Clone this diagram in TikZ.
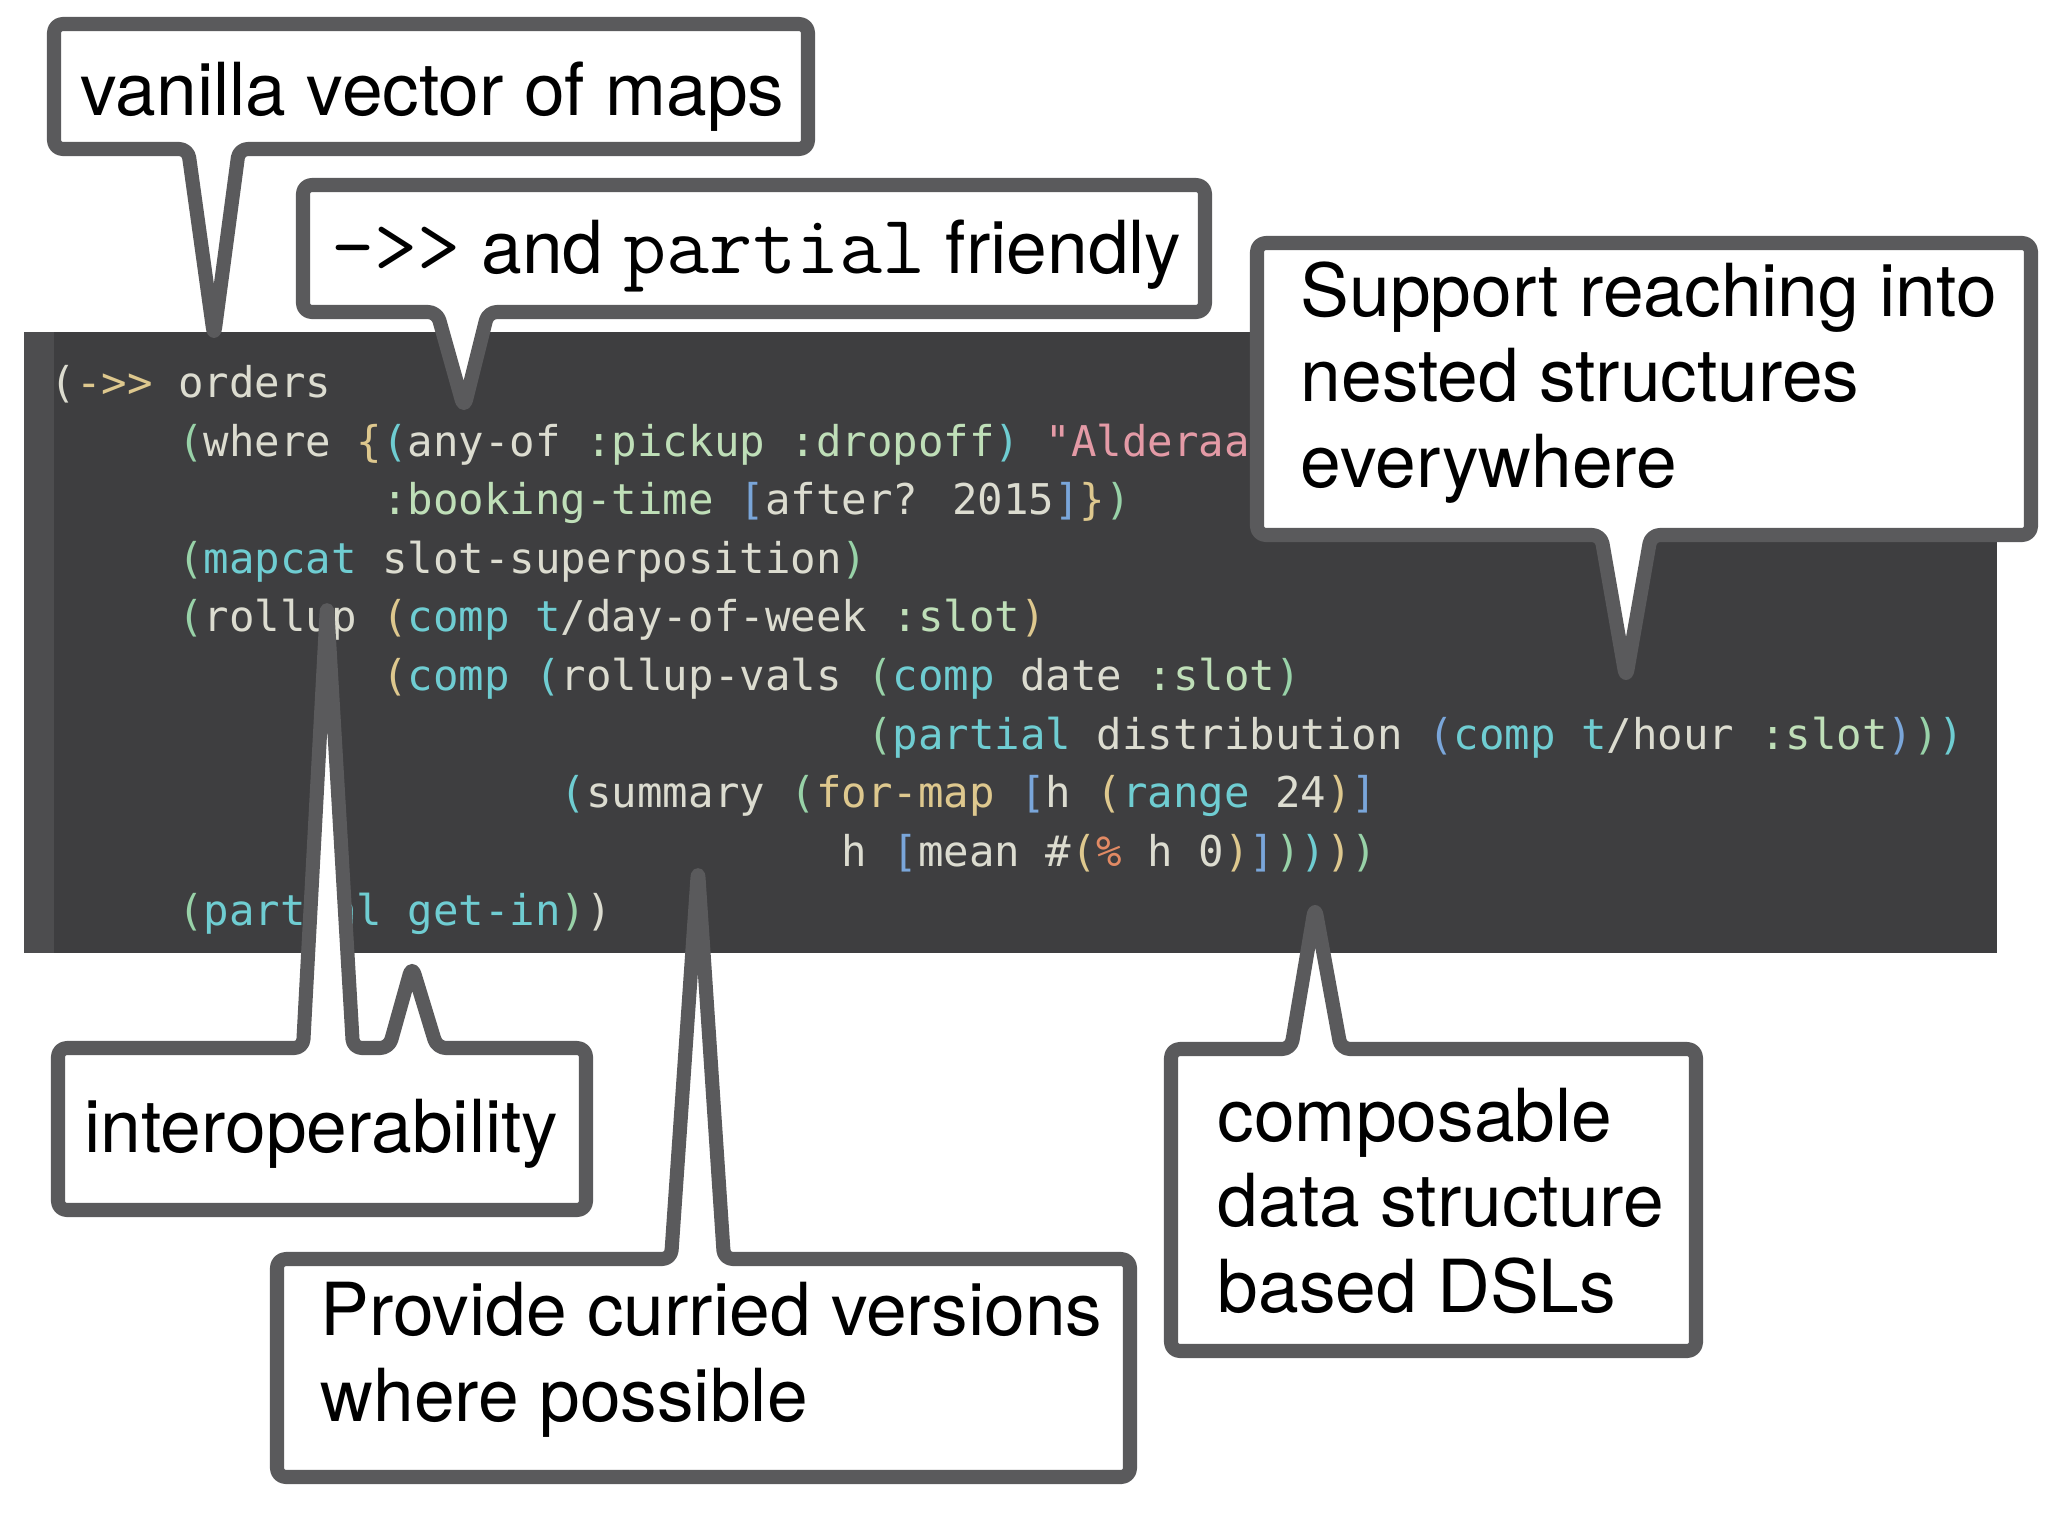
\documentclass[tikz,border=0pt]{standalone}
\usepackage{fontspec}
\newfontfamily\codefont{DejaVu Sans Mono}
\newfontfamily\callfont{TeX Gyre Heros}

\definecolor{codebg}{HTML}{3E3E40}
\definecolor{gutter}{HTML}{4D4D4F}
\definecolor{callgray}{HTML}{5A5A5C}
\definecolor{cwhite}{HTML}{DCDCD0}
\definecolor{cgreen}{HTML}{98D2A8}
\definecolor{cyellow}{HTML}{DEC88E}
\definecolor{ccyan}{HTML}{6FCDD2}
\definecolor{cblue}{HTML}{7AA6DA}
\definecolor{ckey}{HTML}{BFDFB8}
\definecolor{cpink}{HTML}{E49AA6}
\definecolor{corange}{HTML}{E28A64}

\newcommand\cc[2]{\textcolor{#1}{#2}}
\newcommand\ind[1]{\hspace*{#1\fontcharwd\font`0}}
\newcommand\calltt[1]{{\ttfamily\fontsize{23.8pt}{24pt}\selectfont #1}}

\tikzset{
  callout/.style={draw=callgray, fill=white, line width=4pt, rounded corners=2.5pt, line join=round},
  calltext/.style={anchor=base west, inner sep=0pt, align=left, text=black,
    font=\callfont\fontsize{20.8pt}{24.2pt}\selectfont},
  codetext/.style={anchor=base west, inner sep=0pt, align=left, text=cwhite,
    font=\codefont\fontsize{12.05pt}{16.67pt}\selectfont}
}

\begin{document}
\begin{tikzpicture}[x=0.01cm, y=-0.01cm]
    \useasboundingbox (0,0) rectangle (2048,1536);

    % Code panel (node base is its last line)
    \fill[codebg] (24,332) rectangle (1997,953);
    \fill[gutter] (24,332) rectangle (54,953);
    \node[codetext] (code) at (50,925) {%
      \cc{cwhite}{(}\cc{cyellow}{->>} orders\\
      \ind{5}\cc{cgreen}{(}where \cc{cyellow}{\{}\cc{ccyan}{(}any-of \cc{ckey}{:pickup :dropoff}\cc{ccyan}{)} \cc{cpink}{"Alderaan"}\\
      \ind{13}\cc{ckey}{:booking-time} \cc{cblue}{[}after? 2015\cc{cblue}{]}\cc{cyellow}{\}}\cc{cgreen}{)}\\
      \ind{5}\cc{cgreen}{(}\cc{ccyan}{mapcat} slot-superposition\cc{cgreen}{)}\\
      \ind{5}\cc{cgreen}{(}rollup \cc{cyellow}{(}\cc{ccyan}{comp t}/day-of-week \cc{ckey}{:slot}\cc{cyellow}{)}\\
      \ind{13}\cc{cyellow}{(}\cc{ccyan}{comp} \cc{ccyan}{(}rollup-vals \cc{cgreen}{(}\cc{ccyan}{comp} date \cc{ckey}{:slot}\cc{cgreen}{)}\\
      \ind{32}\cc{cgreen}{(}\cc{ccyan}{partial} distribution \cc{cblue}{(}\cc{ccyan}{comp t}/hour \cc{ckey}{:slot}\cc{cblue}{)}\cc{cgreen}{)}\cc{ccyan}{)}\\
      \ind{20}\cc{ccyan}{(}summary \cc{cgreen}{(}\cc{cyellow}{for-map} \cc{cblue}{[}h \cc{cyellow}{(}\cc{ccyan}{range} 24\cc{cyellow}{)}\cc{cblue}{]}\\
      \ind{31}h \cc{cblue}{[}mean \#\cc{cyellow}{(}\cc{corange}{\%} h 0\cc{cyellow}{)}\cc{cblue}{]}\cc{cgreen}{)}\cc{ccyan}{)}\cc{cyellow}{)}\cc{cgreen}{)}\\
      \ind{5}\cc{cgreen}{(}\cc{ccyan}{partial get-in}\cc{cgreen}{)}\cc{cwhite}{)}};

    % Callouts above
    \draw[callout] (54,24) -- (808,24) -- (808,149) -- (239,149) -- (214,336) -- (188,149) -- (54,149) -- cycle;
    \node[calltext] (vanilla) at (80,115) {vanilla vector of maps};

    \draw[callout] (303,185) -- (1205,185) -- (1205,312) -- (488,312) -- (464,408) -- (437,312) -- (303,312) -- cycle;
    \node[calltext] (thread) at (331,273) {\calltt{->>} and \calltt{partial} friendly};

    \draw[callout] (1257,243) -- (2031,243) -- (2031,535) -- (1651,535) -- (1626,678) -- (1601,535) -- (1257,535) -- cycle;
    \node[calltext] (nested) at (1300,487) {Support reaching into\\nested structures\\everywhere};

    % Callouts below
    \draw[callout] (58,1048) -- (303,1048) -- (327,605) -- (353,1048) -- (389,1048) -- (412,966) -- (437,1048)
        -- (586,1048) -- (586,1210) -- (58,1210) -- cycle;
    \node[calltext] (interop) at (84,1152) {interoperability};

    \draw[callout] (277,1259) -- (671,1259) -- (698,870) -- (724,1259) -- (1130,1259) -- (1130,1477) -- (277,1477) -- cycle;
    \node[calltext] (curried) at (320,1421) {Provide curried versions\\where possible};

    \draw[callout] (1171,1049) -- (1291,1049) -- (1315,907) -- (1341,1049) -- (1696,1049) -- (1696,1351) -- (1171,1351) -- cycle;
    \node[calltext] (dsl) at (1217,1312) {composable\\data structure\\based DSLs};
\end{tikzpicture}
\end{document}
